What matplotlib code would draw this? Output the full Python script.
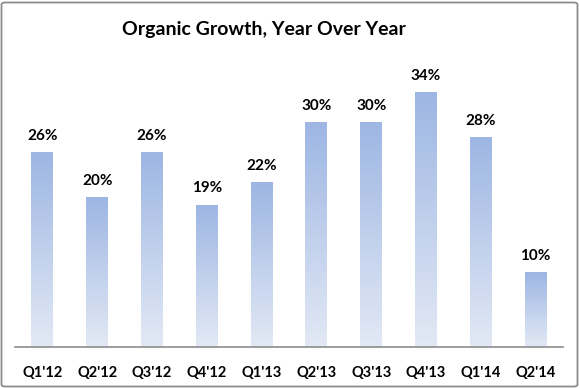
import matplotlib
matplotlib.use("Agg")
import matplotlib.pyplot as plt
import numpy as np
from matplotlib.colors import LinearSegmentedColormap
from matplotlib.patches import FancyBboxPatch

categories = ["Q1'12", "Q2'12", "Q3'12", "Q4'12", "Q1'13", "Q2'13", "Q3'13", "Q4'13", "Q1'14", "Q2'14"]
values = [26, 20, 26, 19, 22, 30, 30, 34, 28, 10]
labels = ["26%", "20%", "26%", "19%", "22%", "30%", "30%", "34%", "28%", "10%"]
title = "Organic Growth, Year Over Year"

W, H = 580, 388
fig = plt.figure(figsize=(W / 100, H / 100), dpi=100)
fig.patch.set_facecolor("white")

# rounded border
border = FancyBboxPatch((1.5 / W, 1.5 / H), (W - 4) / W, (H - 4) / H,
                        boxstyle="round,pad=0,rounding_size=0.006",
                        transform=fig.transFigure, facecolor="none",
                        edgecolor="#8c8c8c", linewidth=1.3)
fig.patches.append(border)

left, right, bottom = 15, 563, 347
ymax = 40
scale = 7.5
top = bottom - ymax * scale
ax = fig.add_axes([left / W, (H - bottom) / H, (right - left) / W, (bottom - top) / H])
ax.set_xlim(-0.5, len(categories) - 0.5)
ax.set_ylim(0, ymax)
for s in ["top", "right", "left"]:
    ax.spines[s].set_visible(False)
ax.spines["bottom"].set_color("#8c8c8c")
ax.spines["bottom"].set_linewidth(1.2)
ax.set_yticks([])

cmap = LinearSegmentedColormap.from_list("g", ["#e3e9f5", "#9db6e3"])
grad = np.linspace(0, 1, 256).reshape(-1, 1)
width = 0.4
bars = ax.bar(range(len(categories)), values, width=width, color="none", edgecolor="none")
for b, v in zip(bars, values):
    x0 = b.get_x()
    im = ax.imshow(grad, cmap=cmap, origin="lower", aspect="auto",
                   extent=(x0, x0 + width, 0, v), zorder=1)
    im.set_clip_path(b)

for i, (v, lab) in enumerate(zip(values, labels)):
    ax.text(i, v + 1.2, lab, ha="center", va="bottom", fontsize=11,
            fontweight="bold", family="Lato", color="black")

ax.set_xticks(range(len(categories)))
ax.set_xticklabels(categories, fontsize=10.5, fontweight="bold", family="Lato")
ax.tick_params(axis="x", length=0, pad=14)
ax.set_xlim(-0.5, len(categories) - 0.5)
ax.set_ylim(0, ymax)

fig.text(264 / W, 1 - 29 / H, title, ha="center", va="center", fontsize=14,
         fontweight="bold", family="Lato")

fig.savefig("out.png", dpi=100)
